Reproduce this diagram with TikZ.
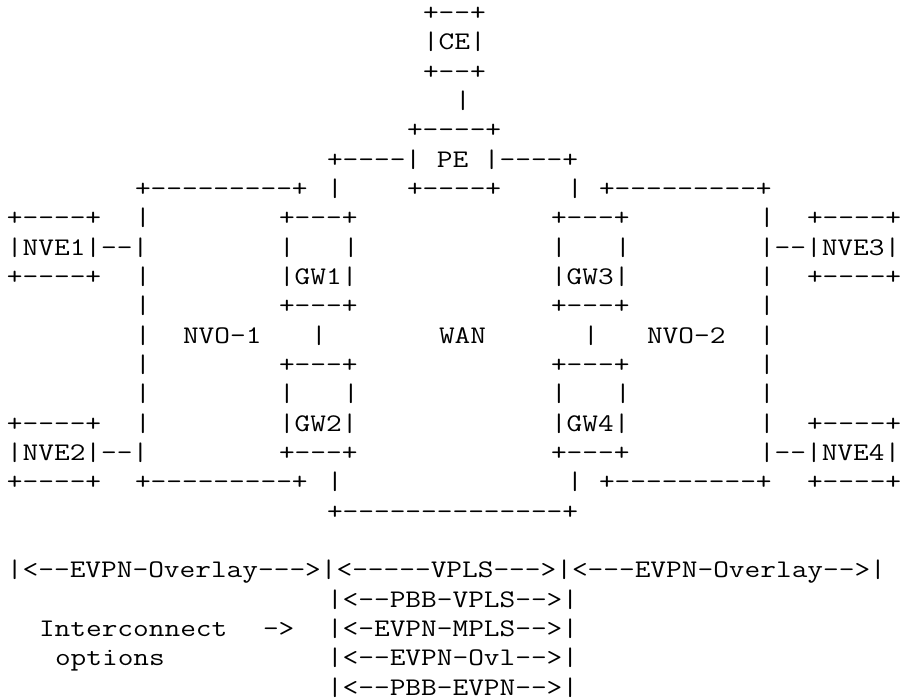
\documentclass[tikz,border=0pt]{standalone}
\usepackage{fontspec}
\setmonofont{Latin Modern Mono}
\tikzset{asc/.style={anchor=base west, inner sep=0pt, outer sep=0pt, text=black,
  font=\ttfamily\fontsize{19pt}{22pt}\selectfont}}
\newcommand\asciiseg[4]{\node[asc] (#1) at ({7+16*#3},{20.67+29.33*(#2-1)}) {\scalebox{1.2030}[1]{#4}};}
\begin{document}
\begin{tikzpicture}[x=0.75pt,y=-0.75pt]
\fill[white] (0,0) rectangle (903,699);
\useasboundingbox (0,0) rectangle (903,699);
% CE and PE
\asciiseg{ceT}{1}{26}{+--+}
\asciiseg{ce}{2}{26}{|CE|}
\asciiseg{ceB}{3}{26}{+--+}
\asciiseg{cepe}{4}{28}{|}
\asciiseg{peT}{5}{25}{+----+}
\asciiseg{pe}{6}{20}{+----| PE |----+}
% row 7
\asciiseg{nvoAT}{7}{8}{+---------+}
\asciiseg{wanL7}{7}{20}{|}
\asciiseg{peB}{7}{25}{+----+}
\asciiseg{wanR7}{7}{35}{|}
\asciiseg{nvoBT}{7}{37}{+---------+}
% row 8
\asciiseg{nveAT}{8}{0}{+----+}
\asciiseg{nvoAL8}{8}{8}{|}
\asciiseg{gwAT}{8}{17}{+---+}
\asciiseg{gwCT}{8}{34}{+---+}
\asciiseg{nvoBR8}{8}{47}{|}
\asciiseg{nveCT}{8}{50}{+----+}
% row 9
\asciiseg{nveA}{9}{0}{|NVE1|--|}
\asciiseg{gwAL9}{9}{17}{|}
\asciiseg{gwAR9}{9}{21}{|}
\asciiseg{gwCL9}{9}{34}{|}
\asciiseg{gwCR9}{9}{38}{|}
\asciiseg{nveC}{9}{47}{|--|NVE3|}
% row 10
\asciiseg{nveAB}{10}{0}{+----+}
\asciiseg{nvoAL10}{10}{8}{|}
\asciiseg{gwA}{10}{17}{|GW1|}
\asciiseg{gwC}{10}{34}{|GW3|}
\asciiseg{nvoBR10}{10}{47}{|}
\asciiseg{nveCB}{10}{50}{+----+}
% row 11
\asciiseg{nvoAL11}{11}{8}{|}
\asciiseg{gwAB}{11}{17}{+---+}
\asciiseg{gwCB}{11}{34}{+---+}
\asciiseg{nvoBR11}{11}{47}{|}
% row 12
\asciiseg{nvoAL12}{12}{8}{|}
\asciiseg{nvoA}{12}{11}{NVO-1}
\asciiseg{gwAB12}{12}{19}{|}
\asciiseg{wan}{12}{27}{WAN}
\asciiseg{gwCD12}{12}{36}{|}
\asciiseg{nvoB}{12}{40}{NVO-2}
\asciiseg{nvoBR12}{12}{47}{|}
% row 13
\asciiseg{nvoAL13}{13}{8}{|}
\asciiseg{gwBT}{13}{17}{+---+}
\asciiseg{gwDT}{13}{34}{+---+}
\asciiseg{nvoBR13}{13}{47}{|}
% row 14
\asciiseg{nvoAL14}{14}{8}{|}
\asciiseg{gwBL14}{14}{17}{|}
\asciiseg{gwBR14}{14}{21}{|}
\asciiseg{gwDL14}{14}{34}{|}
\asciiseg{gwDR14}{14}{38}{|}
\asciiseg{nvoBR14}{14}{47}{|}
% row 15
\asciiseg{nveBT}{15}{0}{+----+}
\asciiseg{nvoAL15}{15}{8}{|}
\asciiseg{gwB}{15}{17}{|GW2|}
\asciiseg{gwD}{15}{34}{|GW4|}
\asciiseg{nvoBR15}{15}{47}{|}
\asciiseg{nveDT}{15}{50}{+----+}
% row 16
\asciiseg{nveB}{16}{0}{|NVE2|--|}
\asciiseg{gwBB}{16}{17}{+---+}
\asciiseg{gwDB}{16}{34}{+---+}
\asciiseg{nveD}{16}{47}{|--|NVE4|}
% row 17
\asciiseg{nveBB}{17}{0}{+----+}
\asciiseg{nvoAB}{17}{8}{+---------+}
\asciiseg{wanL17}{17}{20}{|}
\asciiseg{wanR17}{17}{35}{|}
\asciiseg{nvoBB}{17}{37}{+---------+}
\asciiseg{nveDB}{17}{50}{+----+}
% row 18
\asciiseg{wanB}{18}{20}{+--------------+}
% legend
\asciiseg{legA}{20}{0}{|<--EVPN-Overlay--->|<-----VPLS--->|<---EVPN-Overlay-->|}
\asciiseg{legB}{21}{20}{|<--PBB-VPLS-->|}
\asciiseg{legIc}{22}{2}{Interconnect}
\asciiseg{legArr}{22}{16}{->}
\asciiseg{legC}{22}{20}{|<-EVPN-MPLS-->|}
\asciiseg{legOpt}{23}{3}{options}
\asciiseg{legD}{23}{20}{|<--EVPN-Ovl-->|}
\asciiseg{legE}{24}{20}{|<--PBB-EVPN-->|}
\end{tikzpicture}
\end{document}
